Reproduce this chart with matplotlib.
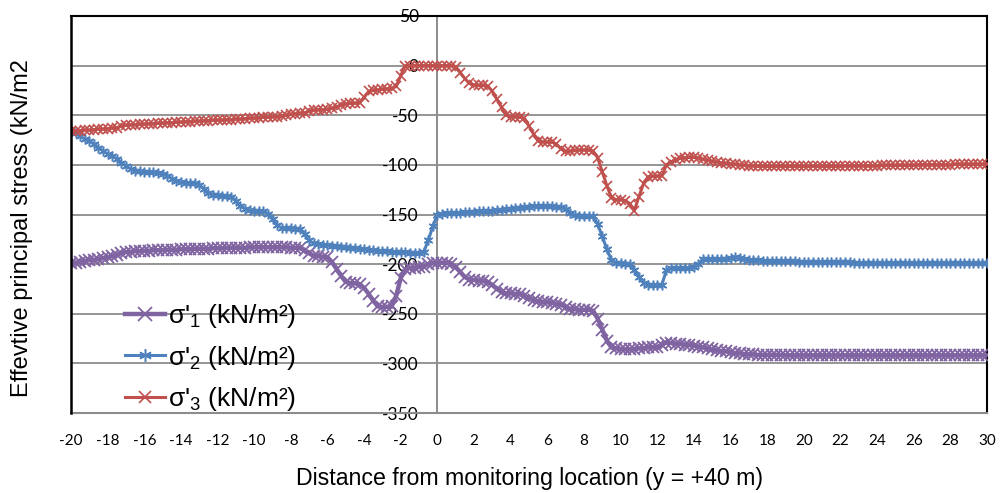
import numpy as np
import matplotlib
matplotlib.use("Agg")
import matplotlib.pyplot as plt

# Distance along the section (m), sampled every 0.25 m
distance = np.linspace(-20, 30, 201)

# Effective principal stresses (kN/m2)
sigma1 = [
    -199, -198.5, -197.5, -197, -196, -195.5, -195, -194, -193, -192, -190.5, -189, -188, -187.5, -187, -187, -186.5, -186.5, -186, -186,
    -186, -185.5, -185.5, -185.5, -185, -185, -185, -184.5, -184.5, -184.5, -184.5, -184, -184, -184, -183.5, -183.5, -183.5, -183.5, -183.5, -183,
    -183, -183, -183, -183, -183, -183, -183, -183, -183.5, -183.5, -184, -186, -189, -191.5, -192, -192.5, -193, -198, -205, -212,
    -218, -219, -219.5, -220, -224, -230, -237, -242.5, -243, -243, -242.5, -232, -214, -205, -204, -203.5, -203, -202.5, -200, -199,
    -199, -198.5, -199, -199.5, -203, -208, -213, -215.5, -216, -216.5, -217, -218, -221, -225, -228, -229.5, -229.5, -230, -230.5, -232,
    -234, -236, -237.5, -238, -238.5, -239, -240, -241, -243, -245, -245.5, -246, -246, -246, -247, -255, -266, -277, -284, -285,
    -285.5, -286, -286, -285.5, -285, -284.5, -284, -284, -283.5, -281, -279, -279.5, -280, -280.5, -281, -281.5, -282, -283, -284, -285,
    -286, -287, -287.5, -288, -289, -289.5, -290, -290.5, -291, -291, -291.5, -291.5, -291.5, -291.5, -291.5, -291.5, -292, -292, -292, -292,
    -292, -292, -292, -292, -292, -292, -292, -292, -292, -292, -292, -292, -292, -292, -292, -292, -292, -292, -292, -292,
    -292, -292, -292, -292, -292, -292, -292, -292, -292, -292, -292, -292, -292, -292, -292, -292, -292, -292, -292, -292,
    -292,
]

sigma2 = [
    -66, -68, -71, -74, -76, -79, -83, -86, -89, -91, -94, -98, -101, -104, -106, -106.5, -107, -107, -107.5, -108,
    -109, -111, -114, -116.5, -117.5, -118, -118, -118.5, -120, -124, -128, -130, -130.5, -131, -131, -132, -136, -141, -144.5, -145.5,
    -146, -146, -146.5, -149, -155, -161, -163.5, -164, -164, -164.5, -165, -170, -176, -179, -180, -180.5, -181, -181.5, -182, -182.5,
    -183, -183.5, -184, -184.5, -185, -185.5, -186, -186.5, -187, -187, -187.5, -187.5, -188, -188, -188.5, -189, -189, -188, -176, -162,
    -150, -149, -148.5, -148.5, -148, -148, -147.5, -147, -147, -146.5, -146.5, -146, -146, -145.5, -145, -144.5, -144, -143.5, -143, -142.5,
    -142, -141.5, -141.5, -141.5, -141.5, -141.5, -142, -142.5, -144, -148, -151, -151.5, -151.5, -151.5, -152, -160, -172, -185, -196, -198.5,
    -199, -199.5, -200, -206, -213, -219, -221, -221, -221, -221, -206, -204, -204, -204, -203.5, -203.5, -203, -200, -194.5, -195,
    -195, -195, -195, -194.5, -194, -193, -193.5, -194.5, -195.5, -196, -196, -196.5, -196.5, -196.5, -197, -197, -197, -197, -197, -197.5,
    -197.5, -197.5, -197.5, -198, -198, -198, -198, -198, -198, -198, -198, -198.5, -198.5, -198.5, -198.5, -198.5, -198.5, -198.5, -198.5, -198.5,
    -198.5, -198.5, -198.5, -198.5, -198.5, -198.5, -198.5, -198.5, -198.5, -198.5, -198.5, -198.5, -198.5, -198.5, -198.5, -198.5, -198.5, -198.5, -198.5, -198.5,
    -198.5,
]

sigma3 = [
    -66, -66, -65.5, -65, -65, -64.5, -64, -64, -63.5, -63, -62.5, -61, -60, -59.5, -59.5, -59, -59, -58.5, -58.5, -58,
    -58, -57.5, -57.5, -57, -57, -56.5, -56.5, -56, -56, -55.5, -55.5, -55, -55, -55, -54.5, -54.5, -54, -54, -53.5, -53,
    -53, -52.5, -52, -52, -51.5, -51.5, -51, -50, -49, -48.5, -48, -47.5, -46, -45, -44.5, -44.5, -44, -43, -41.5, -40,
    -38.5, -38, -38, -37.5, -32, -26, -25, -24.5, -24, -23.5, -23, -21, -10, 0, 0, 0, 0, 0, 0, 0,
    0, 0, 0, 0, -1, -7, -13, -18, -19.5, -20, -20, -20.5, -26, -34, -42, -50, -51.5, -51.5, -52, -53,
    -61, -69, -76, -77, -77, -77, -79, -84, -86.5, -86, -85.5, -85, -85, -85, -86, -93, -107, -121, -133, -135,
    -135, -136, -139, -146, -132, -119, -112, -111.5, -111.5, -111, -100, -97, -95, -93.5, -93, -92.5, -92.5, -93, -94.5, -95.5,
    -96.5, -97, -98, -98.5, -99, -99.5, -100, -100.5, -101, -101, -101.5, -101.5, -101.5, -101.5, -101.5, -101.5, -101.5, -101.5, -101.5, -101.5,
    -101.5, -101.5, -101.5, -101.5, -101.5, -101.5, -101.5, -101.5, -101.5, -101, -101, -101, -101, -101, -101, -101, -101, -100.5, -100.5, -100.5,
    -100.5, -100.5, -100.5, -100.5, -100.5, -100, -100, -100, -100, -100, -100, -100, -100, -99.5, -99.5, -99.5, -99.5, -99.5, -99.5, -99.5,
    -99.5,
]

series_labels = [r"σ'$_1$ (kN/m²)", r"σ'$_2$ (kN/m²)", r"σ'$_3$ (kN/m²)"]
x_ticks = list(range(-20, 31, 2))
y_ticks = list(range(-350, 51, 50))

plt.rcParams["axes.unicode_minus"] = False
plt.rcParams["mathtext.fontset"] = "custom"
plt.rcParams["mathtext.rm"] = "Liberation Sans"
plt.rcParams["mathtext.it"] = "Liberation Sans:italic"
plt.rcParams["mathtext.bf"] = "Liberation Sans:bold"

PURPLE = "#8064A2"
BLUE = "#4F81BD"
RED = "#C0504D"
GRID = "#8C8C8C"

fig = plt.figure(figsize=(10.01, 4.93), dpi=100)
ax = fig.add_axes([71 / 1001, 1 - 413 / 493, 916 / 1001, 397 / 493])

l1, = ax.plot(distance, sigma1, color=PURPLE, lw=3.2, marker="x", ms=8,
              mew=1.3, label=series_labels[0], zorder=3)
l2, = ax.plot(distance, sigma2, color=BLUE, lw=2.2, marker=(6, 2, 0), ms=7,
              mew=1.1, label=series_labels[1], zorder=4)
l3, = ax.plot(distance, sigma3, color=RED, lw=2.2, marker="x", ms=7,
              mew=1.2, label=series_labels[2], zorder=5)

ax.set_xlim(-20, 30)
ax.set_ylim(-350, 50)
ax.set_xticks(x_ticks)
ax.set_yticks(y_ticks)
ax.yaxis.grid(True, color=GRID, lw=1.3)
ax.set_axisbelow(True)

# vertical axis sits at distance 0
ax.spines["left"].set_position(("data", 0))
ax.spines["left"].set_color(GRID)
ax.spines["left"].set_linewidth(1.4)
ax.spines["left"].set_zorder(1)
ax.spines["bottom"].set_color(GRID)
ax.spines["bottom"].set_linewidth(1.5)
for side in ("top", "right"):
    ax.spines[side].set_color("black")
    ax.spines[side].set_linewidth(1.5)
# plot-area frame on the left
ax.plot([0, 0], [0, 1], transform=ax.transAxes, color="black", lw=1.8,
        clip_on=False, zorder=6)

ax.tick_params(axis="both", length=0)
ax.tick_params(axis="x", pad=15)
ax.tick_params(axis="y", pad=13.5)
for t in ax.get_xticklabels():
    t.set_fontfamily("Lato")
    t.set_fontsize(11)
for t in ax.get_yticklabels():
    t.set_fontfamily("Lato")
    t.set_fontsize(12.5)

ax.set_xlabel("Distance from monitoring location (y = +40 m)",
              fontfamily="Liberation Sans", fontsize=16.7)
ax.xaxis.set_label_coords(0.5, -0.135)
ax.set_ylabel("Effevtive principal stress (kN/m2",
              fontfamily="Liberation Sans", fontsize=17)
ax.yaxis.set_label_coords(-0.041, 0.467)

leg = ax.legend(handles=[l1, l2, l3], loc="upper left",
                bbox_to_anchor=(125 / 1001, 1 - 302 / 493),
                bbox_transform=fig.transFigure, frameon=False,
                prop={"family": "Liberation Sans", "size": 19},
                borderpad=0, borderaxespad=0, handlelength=1.5,
                handletextpad=0.12, labelspacing=0.52, markerscale=1.3)

fig.savefig("out.png", dpi=100)
